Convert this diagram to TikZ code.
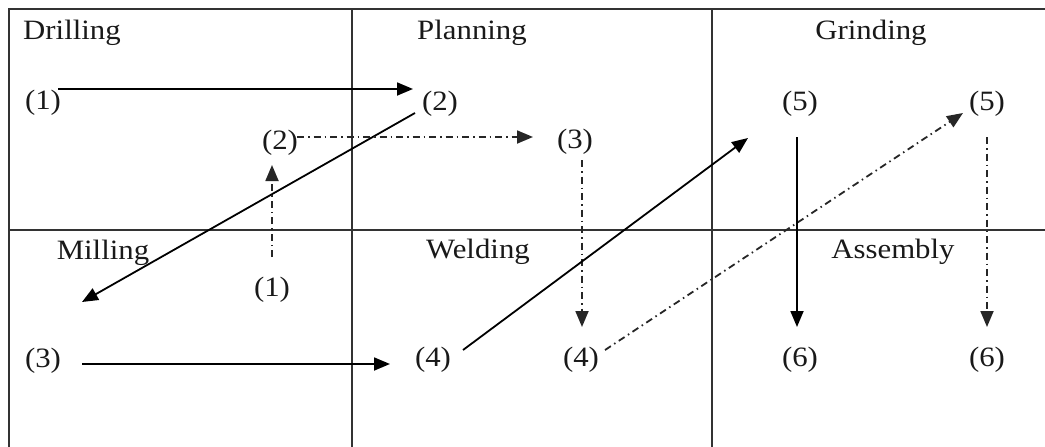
\documentclass[tikz,border=0pt]{standalone}
\usepackage{fontspec}
\setmainfont{Liberation Serif}
\newfontfamily\lblfont[FakeStretch=1.10]{Liberation Serif}
\usetikzlibrary{arrows.meta}
\tikzset{
  frame/.style={draw=black!80, line width=1.3pt},
  title/.style={font=\lblfont\fontsize{28}{30}\selectfont, inner sep=0pt, anchor=base, text=black!90},
  num/.style={font=\lblfont\fontsize{28}{30}\selectfont, inner sep=0pt, anchor=center, text=black!90},
  flow/.style={draw=black, line width=1.8pt, -{Triangle[length=16pt,width=13pt]}},
  dflow/.style={draw=black!85, line width=1.8pt, dash pattern=on 7pt off 4pt on 1.5pt off 4pt, -{Triangle[length=16pt,width=13pt]}},
}
\begin{document}
\begin{tikzpicture}[x=1pt,y=-1pt]
\useasboundingbox (0,0) rectangle (1045,447);
\fill[white] (0,0) rectangle (1045,447);
% frame
\draw[frame] (9,447) -- (9,9) -- (1045,9);
\draw[frame] (352,9) -- (352,447);
\draw[frame] (712,9) -- (712,447);
\draw[frame] (9,230) -- (1045,230);
% titles
\node[title, anchor=base west] (tdr) at (23,39) {Drilling};
\node[title] (tpl) at (472,39) {Planning};
\node[title] (tgr) at (871,39) {Grinding};
\node[title] (tmi) at (103,259) {Milling};
\node[title] (twe) at (478,258) {Welding};
\node[title] (tas) at (893,258) {Assembly};
% numbers
\node[num] (d1) at (43,103) {(1)};
\node[num] (d2) at (280,143) {(2)};
\node[num] (p2) at (440,104) {(2)};
\node[num] (p3) at (575,142) {(3)};
\node[num] (m1) at (272,290) {(1)};
\node[num] (m3) at (43,361) {(3)};
\node[num] (w4a) at (433,360) {(4)};
\node[num] (w4b) at (581,360) {(4)};
\node[num] (g5a) at (800,104) {(5)};
\node[num] (g5b) at (987,104) {(5)};
\node[num] (a6a) at (800,360) {(6)};
\node[num] (a6b) at (987,360) {(6)};
% connectors
\draw[flow] ([shift={(15,-14)}]d1.center) -- ([shift={(-27,-15)}]p2.center);
\draw[flow] ([shift={(-25,9)}]p2.center) -- ([shift={(39,-59)}]m3.center);
\draw[dflow] ([shift={(17,-6)}]d2.center) -- ([shift={(-42,-5)}]p3.center);
\draw[dflow] ([shift={(0,-33)}]m1.center) -- ([shift={(-8,22)}]d2.center);
\draw[dflow] ([shift={(7,18)}]p3.center) -- ([shift={(1,-33)}]w4b.center);
\draw[flow] ([shift={(39,3)}]m3.center) -- ([shift={(-43,4)}]w4a.center);
\draw[flow] ([shift={(30,-10)}]w4a.center) -- ([shift={(-52,34)}]g5a.center);
\draw[dflow] ([shift={(24,-10)}]w4b.center) -- ([shift={(-24,9)}]g5b.center);
\draw[flow] ([shift={(-3,33)}]g5a.center) -- ([shift={(-3,-33)}]a6a.center);
\draw[dflow] ([shift={(0,33)}]g5b.center) -- ([shift={(0,-33)}]a6b.center);
\end{tikzpicture}
\end{document}
